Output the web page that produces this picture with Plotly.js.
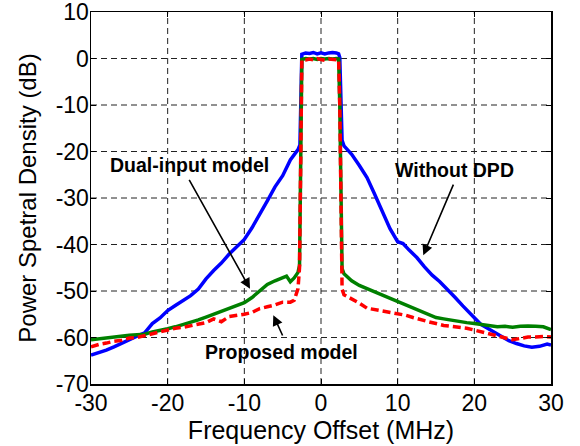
<!DOCTYPE html>
<html>
<head>
<meta charset="utf-8">
<script src="https://cdn.plot.ly/plotly-3.0.1.min.js"></script>
<style>
  html, body { margin: 0; padding: 0; background: #fff; }
  #chart { width: 580px; height: 446px; }
</style>
</head>
<body>
<div id="chart"></div>
<script>
// ---- Data ----
const seriesNames = ["Without DPD", "Dual-input model", "Proposed model"];

const blueX = [-30, -29, -28, -27, -26, -25, -24, -23, -22.5, -22, -21, -20, -19, -18, -17, -16, -15, -14, -13, -12, -11, -10, -9, -8, -7, -6, -5, -4, -3.5, -3, -2.75, -2.6, -2.5, -2, -1.5, -1, -0.5, 0, 0.5, 1, 1.5, 2, 2.3, 2.45, 2.6, 2.75, 3, 3.5, 4, 5, 6, 7, 8, 9, 10, 10.7, 11.5, 12.5, 13.5, 14.5, 15.5, 16.5, 17.5, 18.5, 19.5, 20.3, 20.8, 21.5, 22.5, 23.5, 24.5, 25.5, 26.5, 27.5, 28.5, 29.5, 30];
const blueY = [-63.8, -63.3, -62.7, -62.0, -61.3, -60.4, -59.7, -59.0, -58.0, -57.0, -55.8, -54.2, -53.1, -52.1, -51.0, -49.6, -47.4, -45.6, -44.0, -42.1, -40.6, -38.9, -36.4, -33.6, -30.6, -27.6, -25.2, -21.8, -20.6, -19.6, -18.6, -6.0, 0.9, 1.2, 1.1, 1.3, 1.0, 1.2, 1.0, 1.2, 1.3, 1.2, 1.0, 0.2, -10.0, -17.6, -18.8, -19.6, -20.6, -23.0, -25.6, -29.2, -32.8, -36.6, -39.4, -39.8, -41.2, -42.8, -44.8, -46.6, -48.0, -49.6, -51.4, -53.2, -55.0, -56.2, -57.1, -57.8, -58.8, -59.8, -60.7, -61.3, -61.8, -62.1, -61.9, -61.4, -61.6];

const greenX = [-30, -29, -28, -27, -26, -25, -24, -23, -22, -21, -20, -19, -18, -17, -16, -15, -14, -13, -12, -11, -10, -9, -8, -7, -6, -5, -4.5, -4, -3.5, -3, -2.8, -2.7, -2.6, -2.5, -2, -1.5, -1, -0.5, 0, 0.5, 1, 1.5, 2, 2.3, 2.45, 2.6, 2.75, 3, 4, 5, 6, 7, 8, 9, 10, 11, 12, 13, 14, 15, 16, 17, 18, 19, 20, 21, 22, 23, 24, 25, 26, 27, 28, 29, 30];
const greenY = [-60.5, -60.3, -60.0, -59.8, -59.6, -59.5, -59.4, -59.3, -58.8, -58.5, -58.1, -57.7, -57.2, -56.8, -56.2, -55.6, -55.0, -54.3, -53.7, -53.1, -52.5, -51.4, -50.1, -48.6, -47.8, -47.2, -46.8, -48.0, -47.2, -46.0, -44.5, -30.0, -5.0, -0.2, 0.0, -0.1, 0.0, -0.2, 0.0, -0.1, 0.0, -0.1, 0.0, -0.1, -10.0, -35.0, -45.2, -46.3, -47.8, -48.8, -49.5, -50.2, -50.9, -51.6, -52.2, -53.0, -53.7, -54.5, -55.2, -55.7, -56.0, -56.3, -56.6, -56.8, -57.0, -57.2, -57.5, -57.7, -57.6, -57.8, -57.6, -57.5, -57.6, -57.7, -58.3];

const redX = [-30, -29, -28, -27, -26, -25, -24, -23, -22, -21, -20, -19, -18, -17, -16, -15, -14, -13, -12, -11, -10, -9, -8, -7, -6, -5, -4, -3.5, -3, -2.8, -2.7, -2.6, -2.5, -2, -1.5, -1, -0.5, 0, 0.5, 1, 1.5, 2, 2.3, 2.45, 2.6, 2.75, 3, 4, 5, 6, 7, 8, 9, 10, 11, 12, 13, 14, 15, 16, 17, 18, 19, 20, 21, 22, 23, 24, 25, 26, 27, 28, 29, 30];
const redY = [-62.0, -61.5, -61.2, -60.8, -60.6, -60.1, -60.0, -59.6, -59.2, -58.8, -58.4, -58.0, -57.8, -57.5, -57.2, -56.8, -56.0, -56.6, -55.5, -55.3, -55.0, -54.6, -53.8, -53.4, -53.0, -52.4, -52.4, -52.0, -49.5, -45.0, -30.0, -5.0, -0.3, -0.3, -0.1, -0.3, 0.0, -0.2, -0.4, -0.1, -0.2, -0.3, -0.3, -10.0, -40.0, -49.6, -50.8, -51.6, -52.6, -53.7, -54.0, -54.3, -54.5, -54.8, -55.2, -55.7, -56.2, -56.6, -57.0, -57.4, -57.6, -57.8, -58.0, -58.4, -58.8, -59.3, -59.6, -60.0, -60.5, -60.2, -59.9, -59.9, -59.8, -59.9];

const xTicks = [-30, -20, -10, 0, 10, 20, 30];
const yTicks = [-70, -60, -50, -40, -30, -20, -10, 0, 10];

// annotation labels and arrows (data coordinates)
const labelTexts = ["Dual-input model", "Without DPD", "Proposed model"];
const labelX = [-17.2, 17.4, -5.1];
const labelY = [-22.9, -24.0, -63.1];
const arrowTailX = [-17.3, 17.35, -4.92];
const arrowTailY = [-25.8, -26.8, -59.9];
const arrowHeadX = [-9.26, 13.34, -6.22];
const arrowHeadY = [-49.5, -42.3, -55.2];

// ---- Plot ----
const FONT = "Liberation Sans, Arial, Helvetica, sans-serif";
const traces = [
  { x: blueX, y: blueY, name: seriesNames[0], mode: "lines", line: { color: "#0000FF", width: 3.5 } },
  { x: greenX, y: greenY, name: seriesNames[1], mode: "lines", line: { color: "#008000", width: 3.5 } },
  { x: redX, y: redY, name: seriesNames[2], mode: "lines", line: { color: "#FF0000", width: 3.5, dash: "8px,4px" } }
];

const annotations = [];
for (let i = 0; i < labelTexts.length; i++) {
  annotations.push({
    x: labelX[i], y: labelY[i], xref: "x", yref: "y",
    text: "<b>" + labelTexts[i] + "</b>", showarrow: false,
    font: { family: FONT, size: 19.5, color: "#000" },
    xanchor: "center", yanchor: "middle"
  });
  annotations.push({
    x: arrowHeadX[i], y: arrowHeadY[i], xref: "x", yref: "y",
    ax: arrowTailX[i], ay: arrowTailY[i], axref: "x", ayref: "y",
    text: "", showarrow: true, arrowhead: 2, arrowsize: 1.3, arrowwidth: 1.6, arrowcolor: "#000"
  });
}

// dashed grid lines at the tick positions (drawn as shapes below the traces)
const gridShapes = [];
xTicks.slice(1, -1).forEach(v => gridShapes.push({
  type: "line", layer: "below", xref: "x", yref: "paper", x0: v, x1: v, y0: 0, y1: 1,
  line: { color: "#222", width: 1, dash: "6px,4px" }
}));
yTicks.slice(1, -1).forEach(v => gridShapes.push({
  type: "line", layer: "below", xref: "paper", yref: "y", x0: 0, x1: 1, y0: v, y1: v,
  line: { color: "#222", width: 1, dash: "6px,4px" }
}));

const axisCommon = {
  showline: true, linecolor: "#000", linewidth: 1.5, mirror: "ticks",
  ticks: "inside", ticklen: 5, tickwidth: 1, tickcolor: "#000",
  showgrid: false,
  zeroline: false, ticklabeloverflow: "allow",
  tickfont: { family: FONT, size: 23, color: "#000" }
};

const layout = {
  width: 580, height: 446,
  margin: { l: 91, r: 29, t: 12, b: 62 },
  paper_bgcolor: "#fff", plot_bgcolor: "#fff",
  showlegend: false,
  xaxis: Object.assign({}, axisCommon, {
    range: [-30, 30], tickvals: xTicks, ticktext: xTicks.map(String),
    ticklabelstandoff: -2,
    title: { text: "Frequency Offset (MHz)", standoff: 2,
      font: { family: FONT, size: 25, color: "#000" } }
  }),
  yaxis: Object.assign({}, axisCommon, {
    range: [-70, 10], tickvals: yTicks, ticktext: yTicks.map(String),
    ticklabelstandoff: -4,
    title: { text: "Power Spetral Density (dB)", standoff: 12,
      font: { family: FONT, size: 24, color: "#000" } }
  }),
  shapes: gridShapes,
  annotations: annotations
};

Plotly.newPlot("chart", traces, layout, { displayModeBar: false, staticPlot: true });
</script>
</body>
</html>
